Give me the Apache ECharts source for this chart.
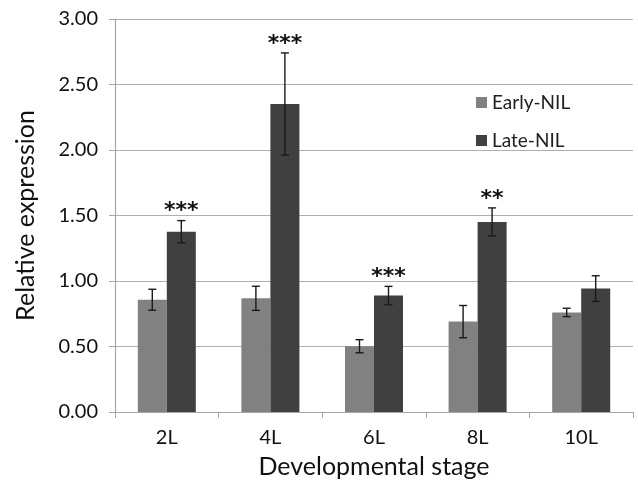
<!DOCTYPE html>
<html><head><meta charset="utf-8">
<script src="https://cdn.jsdelivr.net/npm/echarts@6/dist/echarts.min.js"></script>
<style>html,body{margin:0;padding:0;background:#fff}#c{width:638px;height:484px}</style>
</head><body><div id="c"></div>
<script>
var categories = ['2L','4L','6L','8L','10L'];
var earlyValues = [0.857, 0.868, 0.502, 0.690, 0.760];
var earlyErr = [0.080, 0.092, 0.050, 0.123, 0.032];
var lateValues = [1.376, 2.351, 0.889, 1.451, 0.942];
var lateErr = [0.085, 0.390, 0.070, 0.107, 0.098];
var significance = ['***','***','***','**',''];
var yTicks = [0, 0.5, 1, 1.5, 2, 2.5, 3];

var FONT = 'Lato';
var chart = echarts.init(document.getElementById('c'));

function errData(vals, errs, offsetSign) {
  return vals.map(function(v, i){ return [i, v - errs[i], v + errs[i], offsetSign]; });
}
function renderErr(params, api) {
  var i = api.value(0), lo = api.value(1), hi = api.value(2), s = api.value(3);
  var catW = api.size([1, 0])[0];
  var dx = s * catW * 0.14;
  var pLo = api.coord([i, lo]), pHi = api.coord([i, hi]);
  var x = pLo[0] + dx, cap = 4;
  var st = {stroke:'#1a1a1a', lineWidth:1.4};
  return {type:'group', children:[
    {type:'line', shape:{x1:x, y1:pLo[1], x2:x, y2:pHi[1]}, style:st},
    {type:'line', shape:{x1:x-cap, y1:pLo[1], x2:x+cap, y2:pLo[1]}, style:st},
    {type:'line', shape:{x1:x-cap, y1:pHi[1], x2:x+cap, y2:pHi[1]}, style:st}
  ]};
}
function renderSig(params, api) {
  var i = api.value(0), top = api.value(1);
  var catW = api.size([1, 0])[0];
  var p = api.coord([i, top]);
  return {type:'text', x: p[0] + catW*0.14, y: p[1] - 9,
    style:{text: significance[i], fill:'#111', font:'bold 22px "DejaVu Sans"', align:'center', verticalAlign:'middle'}};
}

chart.setOption({
  animation:false,
  textStyle:{fontFamily:FONT},
  grid:{left:115, right:5, top:19, bottom:65},
  legend:{
    data:['Early-NIL','Late-NIL'], orient:'vertical', left:471, top:88,
    itemWidth:11, itemHeight:11, itemGap:19, icon:'rect',
    textStyle:{fontSize:19, color:'#222', fontFamily:FONT}
  },
  xAxis:{
    type:'category', data:categories,
    name:'Developmental stage', nameLocation:'middle', nameGap:42,
    nameTextStyle:{fontSize:25, color:'#111', fontFamily:FONT},
    axisLine:{lineStyle:{color:'#a6a6a6', width:1.2}},
    axisTick:{show:true, length:6, lineStyle:{color:'#a6a6a6'}},
    axisLabel:{fontSize:20, color:'#111', margin:16, fontFamily:FONT}
  },
  yAxis:{
    type:'value', min:0, max:3, interval:0.5,
    name:'Relative expression', nameLocation:'middle', nameGap:77,
    nameTextStyle:{fontSize:25, color:'#111', fontFamily:FONT},
    axisLine:{show:true, lineStyle:{color:'#a6a6a6', width:1.2}},
    axisTick:{show:true, length:6, lineStyle:{color:'#a6a6a6'}},
    axisLabel:{fontSize:20, color:'#111', margin:17, fontFamily:FONT,
      formatter:function(v){ return v.toFixed(2); }},
    splitLine:{lineStyle:{color:'#b0b0b0', width:1.2}}
  },
  series:[
    {name:'Early-NIL', type:'bar', data:earlyValues, barGap:'0%', barCategoryGap:'44%',
      itemStyle:{color:'#818181'}},
    {name:'Late-NIL', type:'bar', data:lateValues, barGap:'0%', barCategoryGap:'44%',
      itemStyle:{color:'#404040'}},
    {type:'custom', renderItem:renderErr, data:errData(earlyValues, earlyErr, -1), z:5},
    {type:'custom', renderItem:renderErr, data:errData(lateValues, lateErr, 1), z:5},
    {type:'custom', renderItem:renderSig, z:6,
      data: lateValues.map(function(v,i){ return [i, v + lateErr[i]]; })}
  ]
});
</script></body></html>
